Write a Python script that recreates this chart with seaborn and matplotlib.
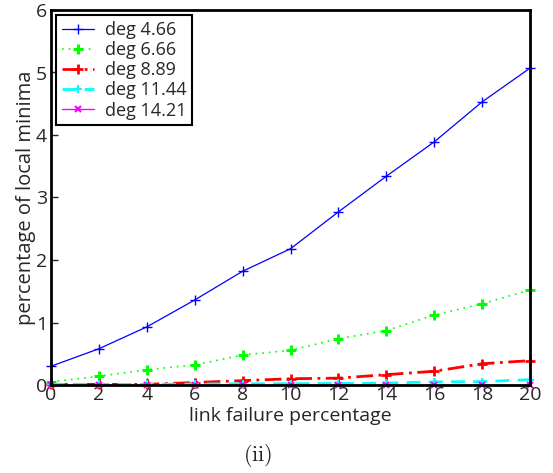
import matplotlib
matplotlib.use("Agg")
import matplotlib.pyplot as plt
import seaborn as sns

x = [0, 2, 4, 6, 8, 10, 12, 14, 16, 18, 20]
deg_4_66 = [0.30, 0.58, 0.93, 1.36, 1.82, 2.18, 2.77, 3.34, 3.89, 4.53, 5.07]
deg_6_66 = [0.05, 0.14, 0.245, 0.32, 0.48, 0.555, 0.74, 0.87, 1.12, 1.30, 1.52]
deg_8_89 = [0.01, 0.01, 0.01, 0.04, 0.07, 0.10, 0.11, 0.165, 0.22, 0.34, 0.39]
deg_11_44 = [0.01, 0.01, 0.01, 0.015, 0.02, 0.02, 0.025, 0.03, 0.05, 0.055, 0.085]
deg_14_21 = [0.0, 0.0, 0.0, 0.0, 0.0, 0.0, 0.0, 0.0, 0.0, 0.0, 0.0]
labels = ["deg 4.66", "deg 6.66", "deg 8.89", "deg 11.44", "deg 14.21"]

sns.set_style("white")
plt.rcParams['font.family'] = ['Open Sans', 'DejaVu Sans']
plt.rcParams['mathtext.fontset'] = 'cm'

fig = plt.figure(figsize=(5.53, 4.73), dpi=100)
ax = fig.add_axes([51/553, 88/473, 479/553, 375/473])

series = [deg_4_66, deg_6_66, deg_8_89, deg_11_44, deg_14_21]
colors = ["#0000ff", "#00ff00", "#ff0000", "#00ffff", "#ff00ff"]
styles = ["-", (0, (1, 3)), (0, (6, 2, 1, 2)), (0, (5, 3)), "-"]
widths = [0.9, 1.2, 2.0, 2.0, 1.0]
markers = ["+", "+", "+", "+", "x"]
msizes = [7, 7, 7, 6, 5]
mews = [1.0, 2.2, 2.0, 1.5, 1.5]
for s, lab, c, ls, lw, m, ms, mew in zip(series, labels, colors, styles, widths,
                                         markers, msizes, mews):
    n_before = len(ax.lines)
    sns.lineplot(x=x, y=s, ax=ax, color=c, label=lab)
    ln = ax.lines[n_before]
    ln.set_linestyle(ls)
    ln.set_linewidth(lw)
    ln.set_marker(m)
    ln.set_markersize(ms)
    ln.set_markeredgewidth(mew)
    ln.set_markeredgecolor(c)
    ln.set_clip_on(False)

ax.set_xlim(0, 20)
ax.set_ylim(0, 6)
ax.set_xticks(range(0, 21, 2))
ax.set_yticks(range(0, 7))
ax.tick_params(direction="in", length=5, width=1, labelsize=14,
               bottom=True, left=True, top=False, right=False)
ax.tick_params(axis="x", pad=1)
ax.tick_params(axis="y", pad=3)
for sp in ax.spines.values():
    sp.set_visible(True)
    sp.set_color("black")
    sp.set_linewidth(2)
ax.set_xlabel("link failure percentage", fontsize=14, labelpad=2)
ax.set_ylabel("percentage of local minima", fontsize=14.5, labelpad=0)

leg = ax.legend(loc="upper left", fontsize=13, frameon=True, fancybox=False,
                edgecolor="black", borderaxespad=0.3, handlelength=1.8,
                handletextpad=0.6, labelspacing=0.12, borderpad=0.3,
                numpoints=1)
leg.get_frame().set_linewidth(1.5)
leg.get_frame().set_alpha(1)

fig.text(258/553, 1 - 455/473, r"$(\mathrm{ii})$", fontsize=16,
         ha="center", va="center")

fig.savefig("out.png", dpi=100)
